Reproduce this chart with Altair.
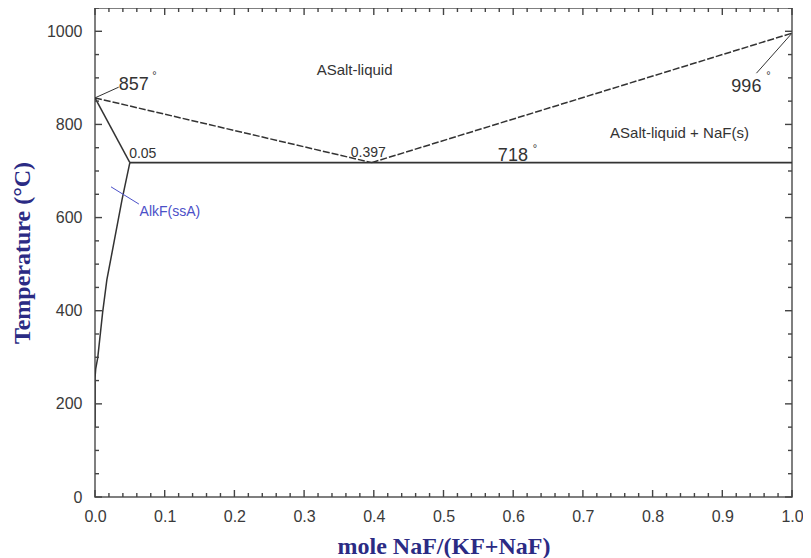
import altair as alt
import pandas as pd

# ---- data ----
liq_left_x = [0.0, 0.397]
liq_left_t = [857, 718]
liq_right_x = [0.397, 1.0]
liq_right_t = [718, 996]
eut_x = [0.05, 1.0]
eut_t = [718, 718]
sol_x = [0.0, 0.05]
sol_t = [857, 718]
solvus_x = [0.05, 0.039, 0.017, 0.011, 0.004, 0.001, 0.0, 0.0]
solvus_t = [718, 640, 466, 397, 300, 275, 255, 150]

x_major = [0.0, 0.1, 0.2, 0.3, 0.4, 0.5, 0.6, 0.7, 0.8, 0.9, 1.0]
x_minor = [0.02, 0.04, 0.06, 0.08, 0.12, 0.14, 0.16, 0.18, 0.22, 0.24, 0.26, 0.28,
           0.32, 0.34, 0.36, 0.38, 0.42, 0.44, 0.46, 0.48, 0.52, 0.54, 0.56, 0.58,
           0.62, 0.64, 0.66, 0.68, 0.72, 0.74, 0.76, 0.78, 0.82, 0.84, 0.86, 0.88,
           0.92, 0.94, 0.96, 0.98]
y_major = [0, 200, 400, 600, 800, 1000]
y_minor = [50, 100, 150, 250, 300, 350, 450, 500, 550, 650, 700, 750, 850, 900, 950, 1050]

num_text = ["857", "996", "718"]
num_x = [0.034, 0.913, 0.578]
num_t = [874, 870, 722]
deg_x = [0.082, 0.963, 0.628]
deg_t = [917, 917, 760]

small_text = ["0.397", "0.05"]
small_x = [0.367, 0.049]
small_t = [731, 728]

region_text = ["ASalt-liquid", "ASalt-liquid + NaF(s)"]
region_x = [0.318, 0.739]
region_t = [907, 771]

blue_text = ["AlkF(ssA)"]
blue_x = [0.064]
blue_t = [604]

leader_x = [0.0, 0.034]
leader_t = [857, 880]
leader2_x = [1.0, 0.949]
leader2_t = [996, 910]
blue_leader_x = [0.023, 0.063]
blue_leader_t = [666, 629]

W, H = 697, 489
XD = [0, 1]
YD = [0, 1050]
LINE = "#333333"
BLUE = "#4b50c8"
TC = "#444444"

xs = alt.Scale(domain=XD, nice=False, zero=False)
ys = alt.Scale(domain=YD, nice=False, zero=False)

PX_X = (XD[1] - XD[0]) / W
PX_Y = (YD[1] - YD[0]) / H


def seg(xv, tv):
    return pd.DataFrame({"x": xv, "t": tv, "o": list(range(len(xv)))})


def line_layer(xv, tv, color=LINE, width=1.4, dash=None):
    kw = dict(color=color, strokeWidth=width, clip=True)
    if dash:
        kw["strokeDash"] = dash
    return alt.Chart(seg(xv, tv)).mark_line(**kw).encode(
        x=alt.X("x:Q", scale=xs), y=alt.Y("t:Q", scale=ys), order="o:Q"
    )


base_axes = alt.Chart(pd.DataFrame({"x": [0.0], "t": [0]})).mark_point(opacity=0).encode(
    x=alt.X(
        "x:Q",
        scale=xs,
        axis=alt.Axis(
            values=x_major, format=".1f", title="mole NaF/(KF+NaF)", grid=False,
            domain=False, ticks=False, tickSize=0, labelPadding=11, labelFlush=False,
            labelFontSize=16, labelColor="#3a3a3a", labelFont="Liberation Sans",
            titleFont="Liberation Serif", titleFontSize=24, titleFontWeight="bold",
            titleColor="#2b2b84", titlePadding=10,
        ),
    ),
    y=alt.Y(
        "t:Q",
        scale=ys,
        axis=alt.Axis(
            values=y_major, format="d", title="Temperature (°C)", grid=False,
            domain=False, ticks=False, tickSize=0, labelPadding=13, labelFlush=False,
            labelFontSize=16, labelColor="#3a3a3a", labelFont="Liberation Sans",
            titleFont="Liberation Serif", titleFontSize=24, titleFontWeight="bold",
            titleColor="#2b2b84", titlePadding=12,
        ),
    ),
)

# inward ticks on all four sides as thin filled rectangles
HALF_W = 0.7  # half tick thickness in px
rows = []
for vals, L in ((x_major, 7), (x_minor, 4)):
    for v in vals:
        for edge, sgn in ((YD[0], 1), (YD[1], -1)):
            rows.append({"x0": v - HALF_W * PX_X, "x1": v + HALF_W * PX_X,
                         "t0": edge, "t1": edge + sgn * L * PX_Y})
for vals, L in ((y_major, 7), (y_minor, 4)):
    for v in vals:
        for edge, sgn in ((XD[0], 1), (XD[1], -1)):
            rows.append({"x0": edge, "x1": edge + sgn * L * PX_X,
                         "t0": v - HALF_W * PX_Y, "t1": v + HALF_W * PX_Y})
tick_df = pd.DataFrame(rows)

ticks_rect = alt.Chart(tick_df).mark_rect(color=TC, opacity=1).encode(
    x=alt.X("x0:Q", scale=xs), x2="x1:Q", y=alt.Y("t0:Q", scale=ys), y2="t1:Q"
)

lines = [
    line_layer(liq_left_x, liq_left_t, width=1.5, dash=[7, 2]),
    line_layer(liq_right_x, liq_right_t, width=1.5, dash=[7, 2]),
    line_layer(eut_x, eut_t, width=1.8),
    line_layer(sol_x, sol_t, width=1.5),
    line_layer(solvus_x, solvus_t, width=1.5),
    line_layer(leader_x, leader_t, width=1.0),
    line_layer(leader2_x, leader2_t, width=1.0),
    line_layer(blue_leader_x, blue_leader_t, color=BLUE, width=1.0),
]


def text_layer(txt, xv, tv, size, color="#333333", font="Liberation Sans", baseline="alphabetic"):
    df = pd.DataFrame({"label": txt, "x": xv, "t": tv})
    return alt.Chart(df).mark_text(
        align="left", baseline=baseline, fontSize=size, color=color, font=font
    ).encode(x=alt.X("x:Q", scale=xs), y=alt.Y("t:Q", scale=ys), text="label:N")


texts = [
    text_layer(num_text, num_x, num_t, 18),
    text_layer(["°"] * 3, deg_x, deg_t, 11, baseline="top"),
    text_layer(small_text, small_x, small_t, 14),
    text_layer(region_text, region_x, region_t, 15),
    text_layer(blue_text, blue_x, blue_t, 14, color=BLUE),
]

chart = alt.layer(base_axes, *lines, *texts, ticks_rect).properties(
    width=W,
    height=H,
    autosize=alt.AutoSizeParams(type="none"),
    padding={"left": 87, "top": 0, "right": 11, "bottom": 61},
    background="white",
).configure_view(stroke="#555555", strokeWidth=1.5)

chart.save("out.html", embed_options={"renderer": "svg", "actions": False})
